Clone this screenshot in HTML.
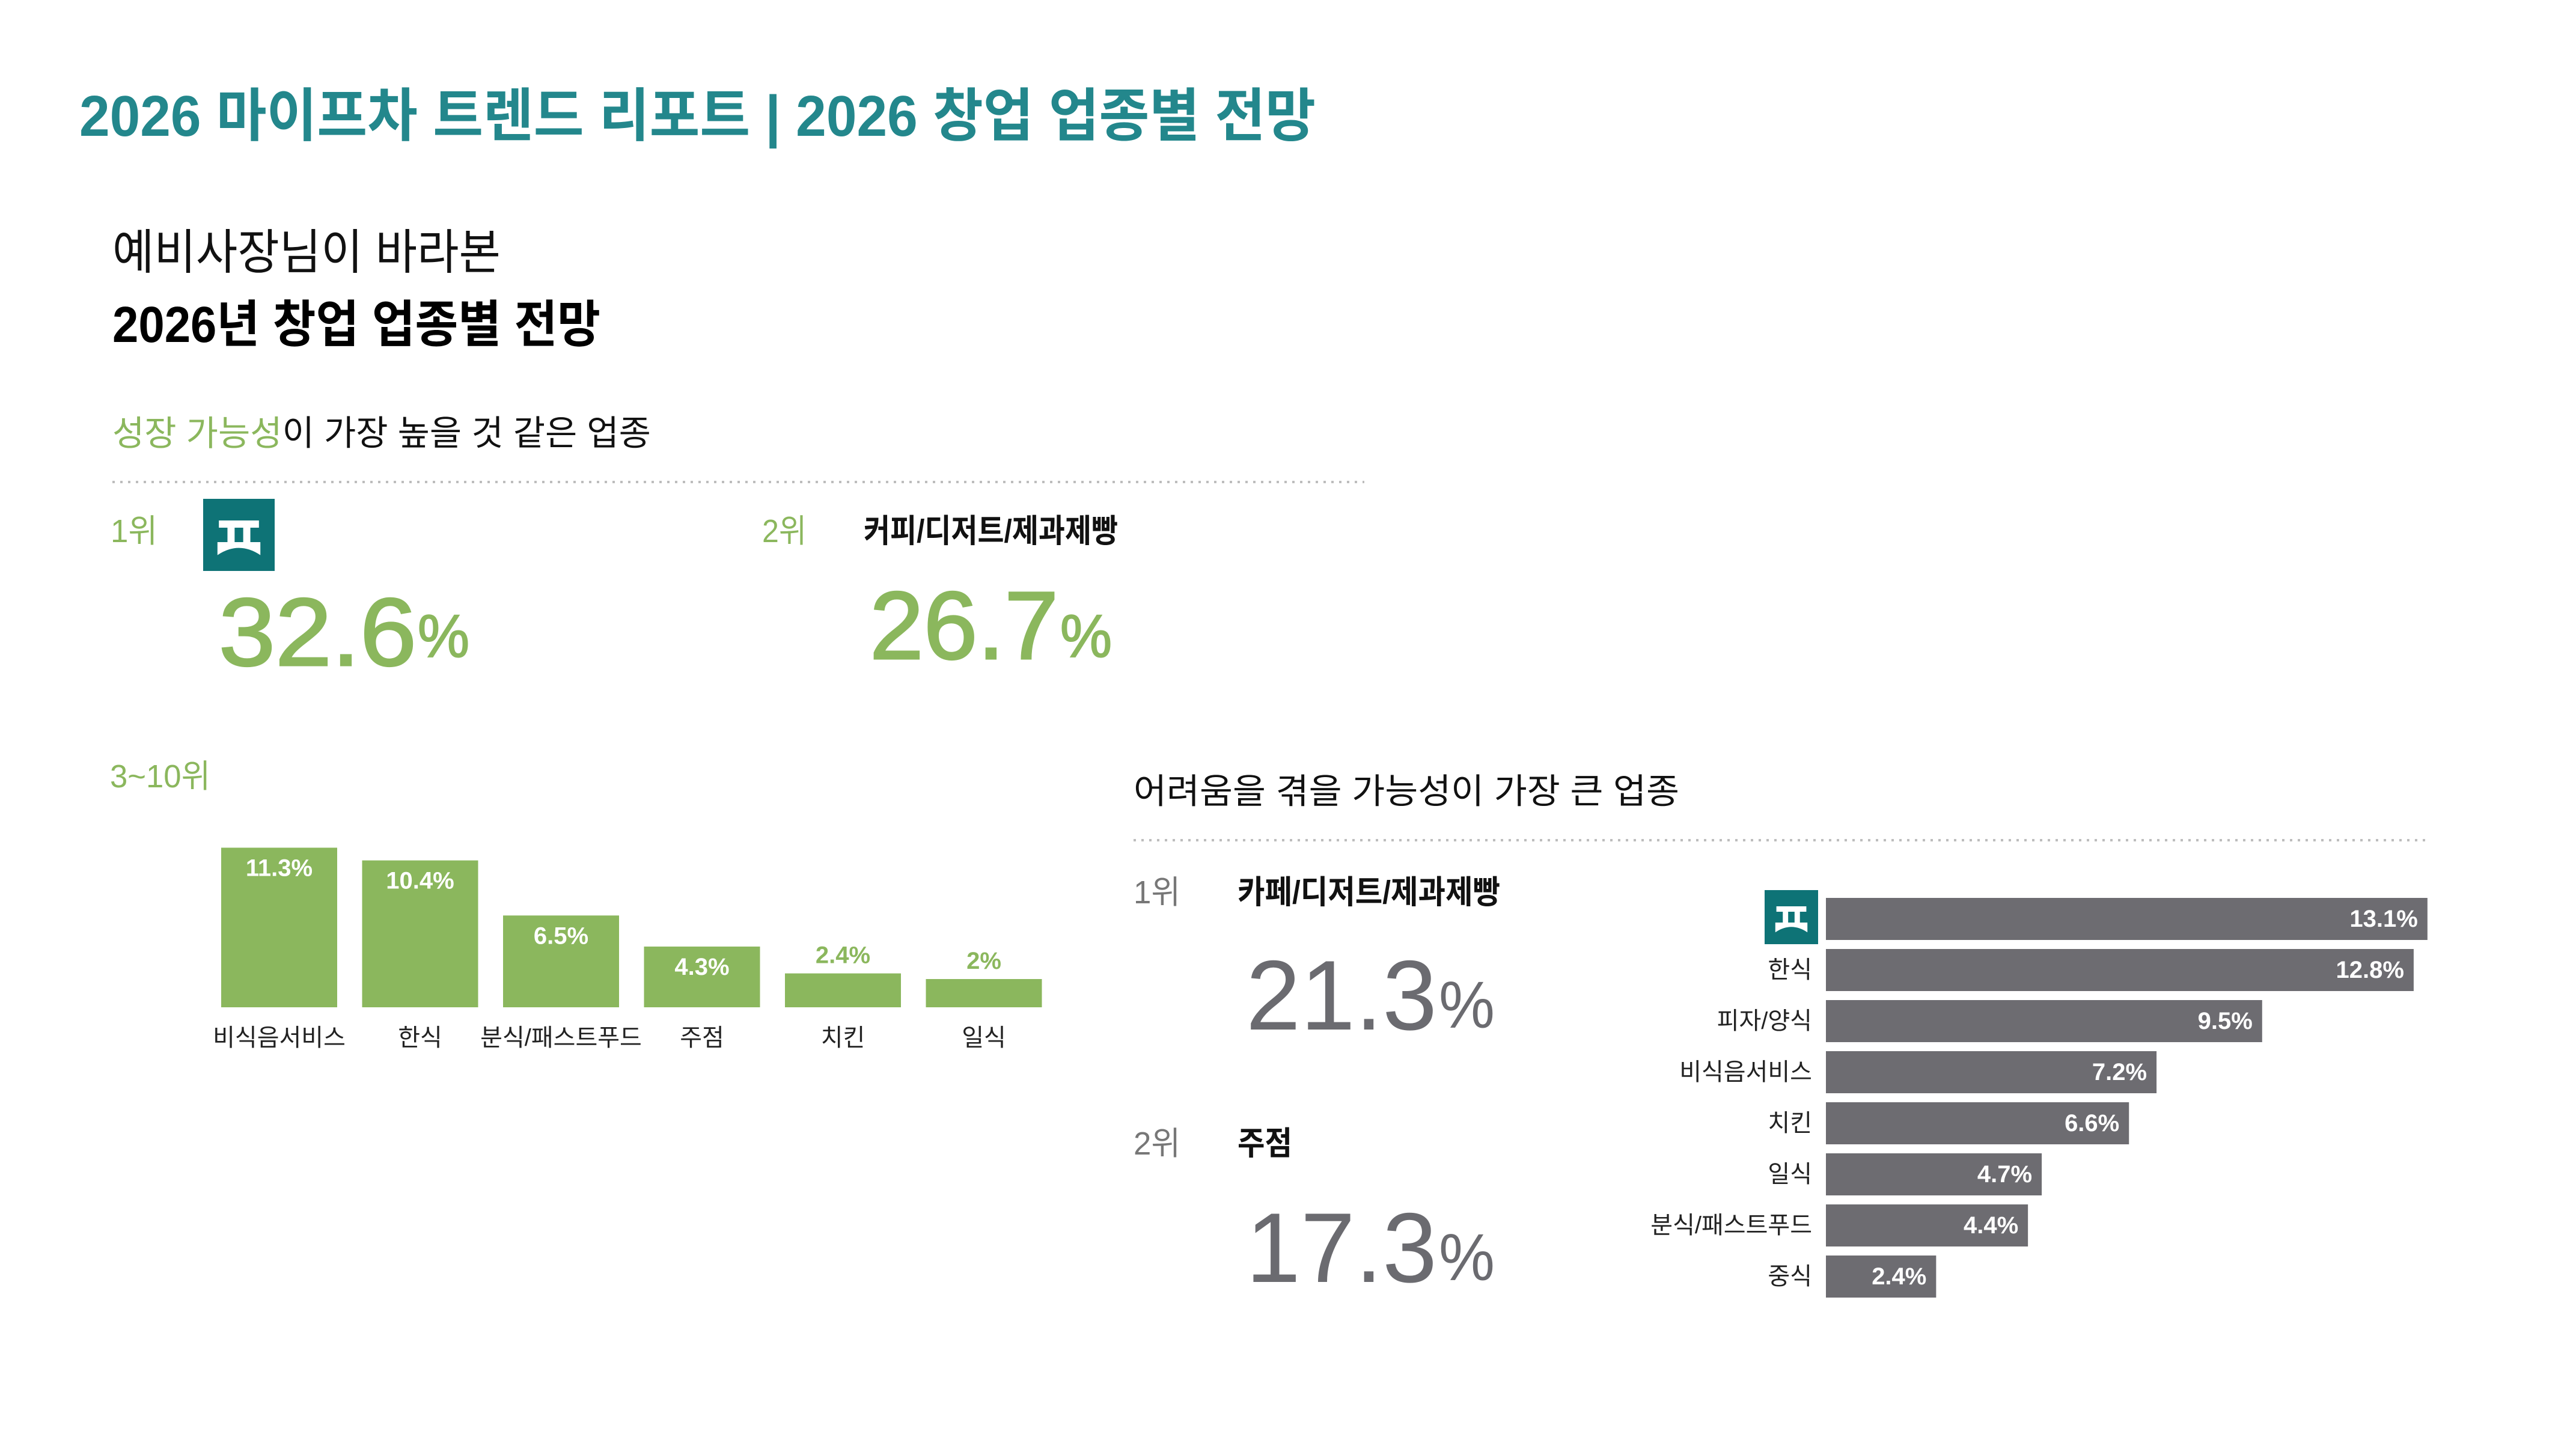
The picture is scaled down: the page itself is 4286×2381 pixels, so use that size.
<!DOCTYPE html>
<html><head><meta charset="utf-8"><style>
html,body{margin:0;padding:0;background:#fff;}
svg{display:block;font-family:"Liberation Sans","Noto Sans CJK KR",sans-serif;}
</style></head><body>
<svg id="root" width="4286" height="2381" viewBox="0 0 4286 2381" xmlns="http://www.w3.org/2000/svg">
<defs>
<g id="logoGlyph">
<rect x="0" y="0" width="100" height="100" fill="#0e7376"/>
<rect x="22" y="30" width="56" height="10" fill="#fff"/>
<rect x="34" y="40" width="10" height="22" fill="#fff"/>
<rect x="56" y="40" width="10" height="22" fill="#fff"/>
<path d="M20,60 L80,60 L80,78 Q50,58 20,78 Z" fill="#fff"/>
</g>
</defs>
<text x="132" y="226" font-size="96" font-weight="bold" fill="#23878c" textLength="2057" lengthAdjust="spacingAndGlyphs">2026 마이프차 트렌드 리포트  | 2026 창업 업종별 전망</text>
<text x="187" y="420" dominant-baseline="central" font-size="80" fill="#111" textLength="646" lengthAdjust="spacingAndGlyphs">예비사장님이 바라본</text>
<text x="187" y="540" dominant-baseline="central" font-size="84" font-weight="bold" fill="#000" textLength="812" lengthAdjust="spacingAndGlyphs">2026년 창업 업종별 전망</text>
<text x="187" y="721" dominant-baseline="central" font-size="58" fill="#111" textLength="896" lengthAdjust="spacingAndGlyphs"><tspan fill="#8bb75d">성장 가능성</tspan>이 가장 높을 것 같은 업종</text>
<line x1="187" y1="802" x2="2270" y2="802" stroke="#bdbdbd" stroke-width="4" stroke-dasharray="4 9"/>
<text x="184" y="884" dominant-baseline="central" font-size="54" fill="#8bb75d" textLength="78" lengthAdjust="spacingAndGlyphs">1위</text>
<use href="#logoGlyph" transform="translate(338,830) scale(1.19,1.2)"/>
<text x="364" y="1107" font-size="160" fill="#8bb75d" stroke="#8bb75d" stroke-width="3" textLength="329" lengthAdjust="spacingAndGlyphs">32.6</text>
<text x="695" y="1093" font-size="100" fill="#8bb75d" stroke="#8bb75d" stroke-width="2" textLength="86" lengthAdjust="spacingAndGlyphs">%</text>
<text x="1268" y="884" dominant-baseline="central" font-size="54" fill="#8bb75d" textLength="74" lengthAdjust="spacingAndGlyphs">2위</text>
<text x="1437" y="884" dominant-baseline="central" font-size="54" font-weight="bold" fill="#111" textLength="423" lengthAdjust="spacingAndGlyphs">커피/디저트/제과제빵</text>
<text x="1447" y="1096" font-size="160" fill="#8bb75d" stroke="#8bb75d" stroke-width="3" textLength="314" lengthAdjust="spacingAndGlyphs">26.7</text>
<text x="1764" y="1093" font-size="100" fill="#8bb75d" stroke="#8bb75d" stroke-width="2" textLength="86" lengthAdjust="spacingAndGlyphs">%</text>
<text x="183" y="1292" dominant-baseline="central" font-size="54" fill="#8bb75d" textLength="167" lengthAdjust="spacingAndGlyphs">3~10위</text>
<g id="growthBars"></g>

<text x="1886" y="1317" dominant-baseline="central" font-size="58" fill="#111" textLength="908" lengthAdjust="spacingAndGlyphs">어려움을 겪을 가능성이 가장 큰 업종</text>
<line x1="1886" y1="1398" x2="4042" y2="1398" stroke="#bdbdbd" stroke-width="4" stroke-dasharray="4 9"/>
<text x="1886" y="1485" dominant-baseline="central" font-size="54" fill="#777" textLength="78" lengthAdjust="spacingAndGlyphs">1위</text>
<text x="2059" y="1485" dominant-baseline="central" font-size="54" font-weight="bold" fill="#111" textLength="437" lengthAdjust="spacingAndGlyphs">카페/디저트/제과제빵</text>
<text x="2073" y="1713" font-size="165" fill="#6b6b70" textLength="318" lengthAdjust="spacingAndGlyphs">21.3</text>
<text x="2394" y="1710" font-size="110" fill="#6b6b70" textLength="93" lengthAdjust="spacingAndGlyphs">%</text>
<text x="1886" y="1903" dominant-baseline="central" font-size="54" fill="#777" textLength="78" lengthAdjust="spacingAndGlyphs">2위</text>
<text x="2059" y="1903" dominant-baseline="central" font-size="54" font-weight="bold" fill="#111" textLength="91" lengthAdjust="spacingAndGlyphs">주점</text>
<text x="2073" y="2133" font-size="165" fill="#6b6b70" textLength="318" lengthAdjust="spacingAndGlyphs">17.3</text>
<text x="2394" y="2130" font-size="110" fill="#6b6b70" textLength="93" lengthAdjust="spacingAndGlyphs">%</text>
<g id="riskBars"></g>
</svg>
<script>
const growthCategories = ["비식음서비스","한식","분식/패스트푸드","주점","치킨","일식"];
const growthValues = [11.3, 10.4, 6.5, 4.3, 2.4, 2];
const growthLabels = ["11.3%","10.4%","6.5%","4.3%","2.4%","2%"];
const riskCategories = ["","한식","피자/양식","비식음서비스","치킨","일식","분식/패스트푸드","중식"];
const riskValues = [13.1, 12.8, 9.5, 7.2, 6.6, 4.7, 4.4, 2.4];
const riskLabels = ["13.1%","12.8%","9.5%","7.2%","6.6%","4.7%","4.4%","2.4%"];

const NS = "http://www.w3.org/2000/svg";
function mk(tag, attrs, parent){
  const e = document.createElementNS(NS, tag);
  for (const k in attrs) e.setAttribute(k, attrs[k]);
  parent.appendChild(e);
  return e;
}
const gX = i => 368 + i * 234.5;
const gBase = 1676;
const gY = v => gBase - v * 23.5;
const gW = 193;
const gg = document.getElementById('growthBars');
growthValues.forEach((v, i) => {
  const top = gY(v);
  const r = mk('rect', {x: gX(i), y: top, width: gW, height: gBase - top, fill: '#8bb75d'}, gg);
  
  
  const inside = (gBase - top) > 80;
  const t = mk('text', {x: gX(i) + gW/2, y: inside ? top + 34 : top - 30, 'text-anchor': 'middle', 'dominant-baseline': 'central', 'font-size': 40, 'font-weight': 'bold', fill: inside ? '#fff' : '#8bb75d'}, gg);
  t.textContent = growthLabels[i];
  
  
  const c = mk('text', {x: gX(i) + gW/2, y: 1727, 'text-anchor': 'middle', 'dominant-baseline': 'central', 'font-size': 40, fill: '#222'}, gg);
  c.textContent = growthCategories[i];
  
  
});
const rX0 = 3038;
const rW = v => v * 76.4;
const rY = i => 1494 + i * 85;
const rH = 70;
const rg = document.getElementById('riskBars');
riskValues.forEach((v, i) => {
  const r = mk('rect', {x: rX0, y: rY(i), width: rW(v), height: rH, fill: '#6d6c71'}, rg);
  
  
  const t = mk('text', {x: rX0 + rW(v) - 16, y: rY(i) + rH/2, 'text-anchor': 'end', 'dominant-baseline': 'central', 'font-size': 40, 'font-weight': 'bold', fill: '#fff'}, rg);
  t.textContent = riskLabels[i];
  
  
  if (riskCategories[i]) {
    const c = mk('text', {x: 3015, y: rY(i) + rH/2, 'text-anchor': 'end', 'dominant-baseline': 'central', 'font-size': 40, fill: '#222'}, rg);
    c.textContent = riskCategories[i];
    
    
  } else {
    const u = mk('use', {href: '#logoGlyph', transform: 'translate(2936,' + (rY(i) - 13) + ') scale(0.89,0.9)'}, rg);
    
    
  }
});
</script>
</body></html>
